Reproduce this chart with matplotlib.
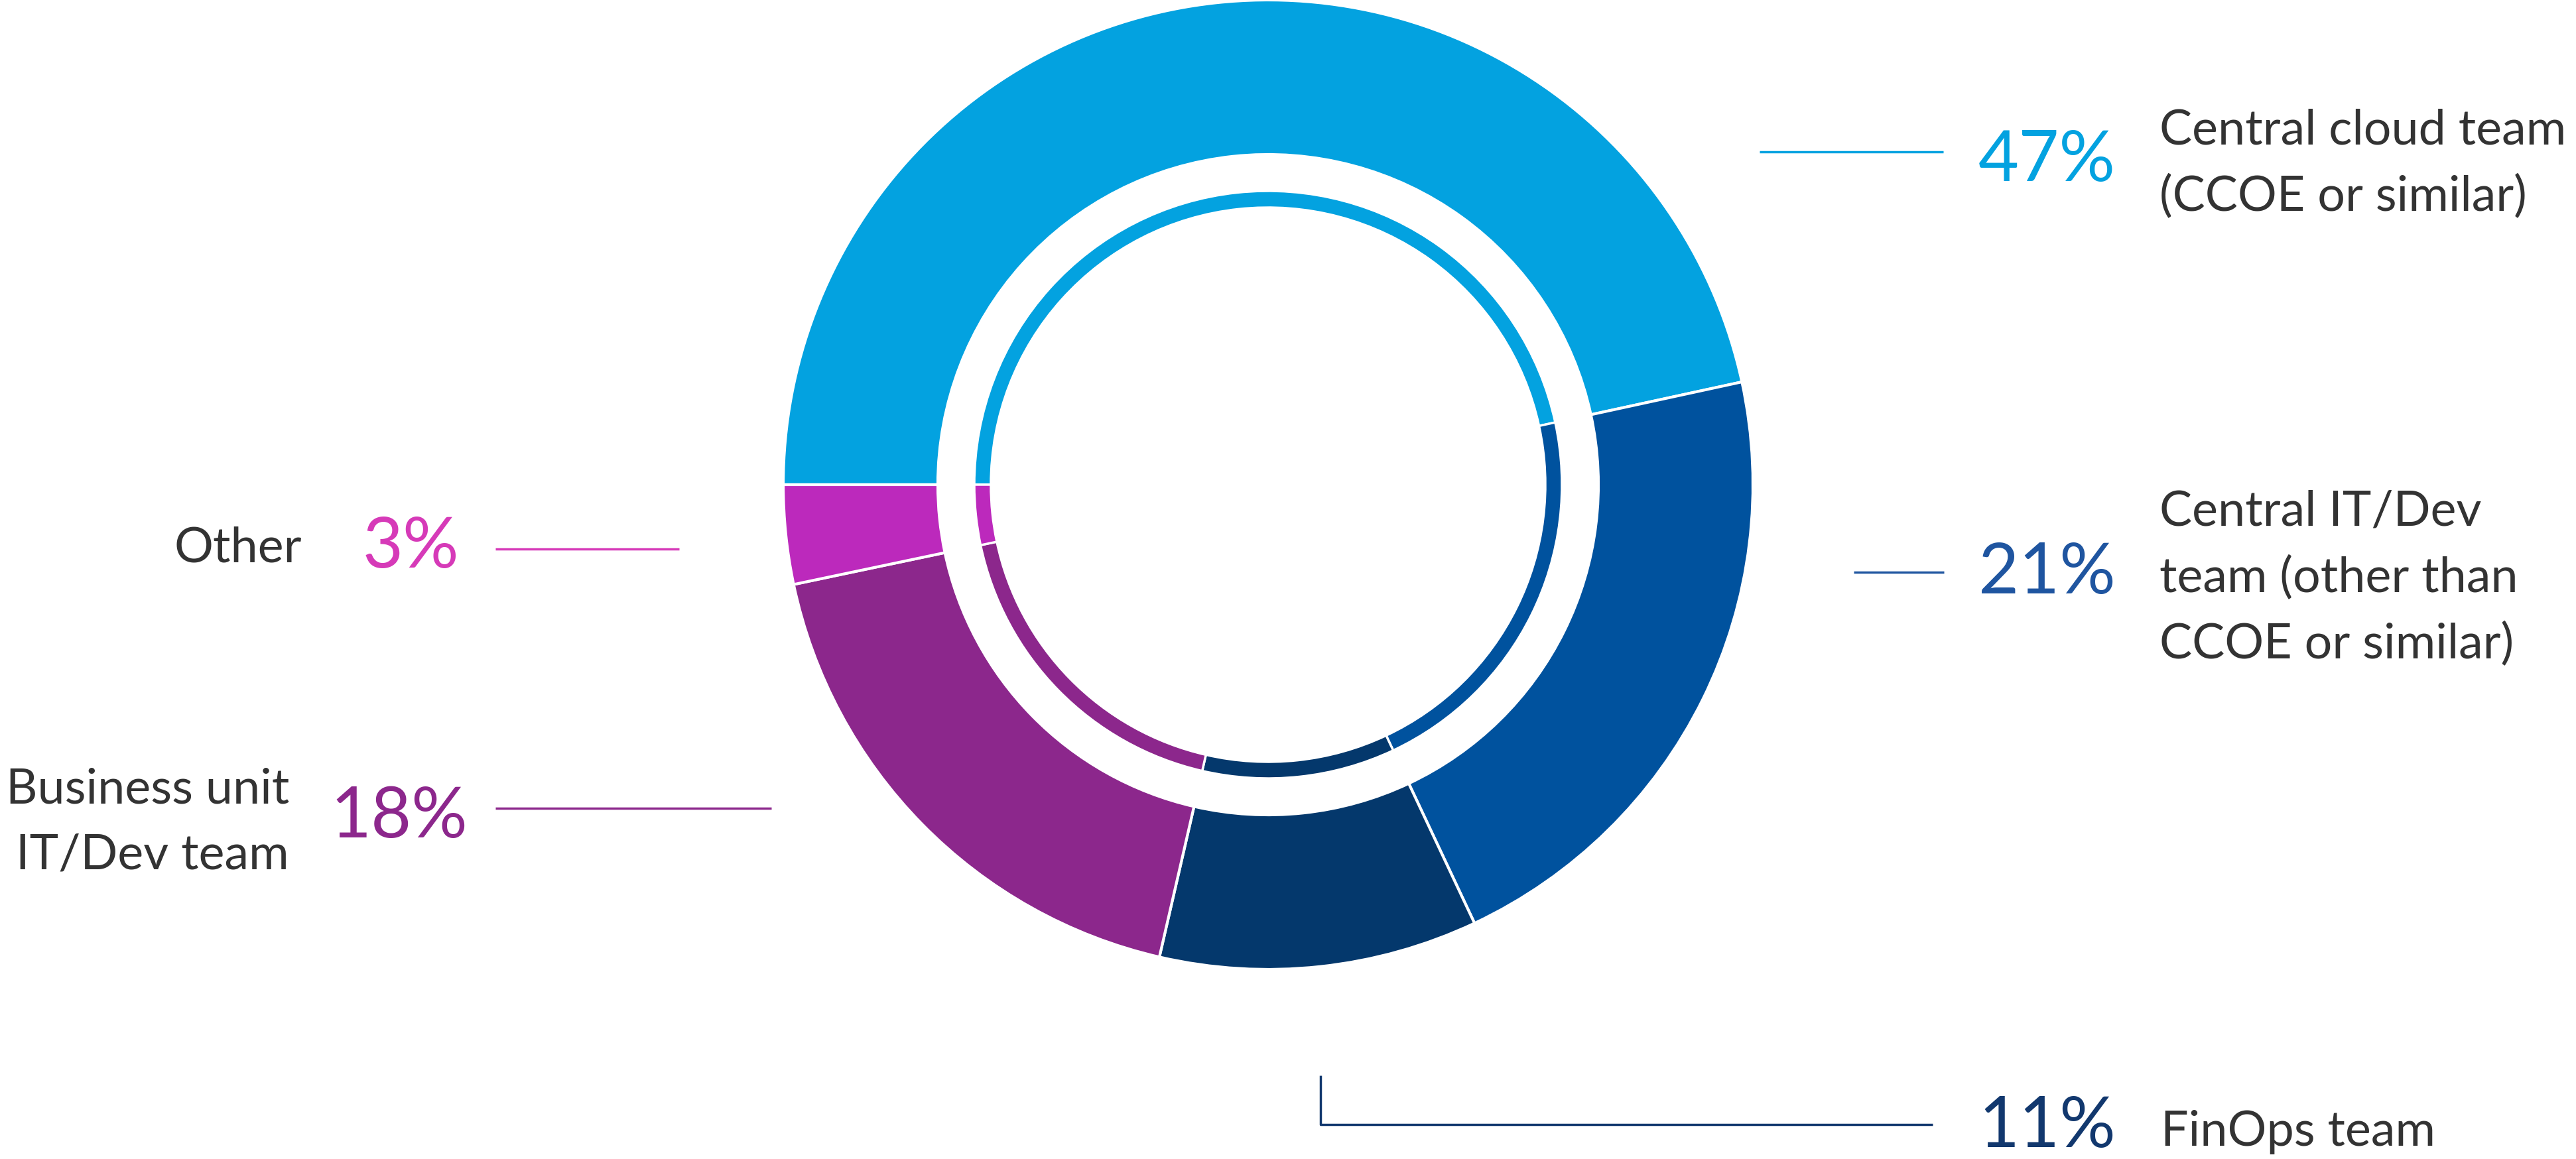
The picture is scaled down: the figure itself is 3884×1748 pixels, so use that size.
import matplotlib
matplotlib.use("Agg")
import matplotlib.pyplot as plt

# who owns cloud cost management -- donut with a thin inner ring
groups = ["Central cloud team\n(CCOE or similar)",
          "Central IT/Dev\nteam (other than\nCCOE or similar)",
          "FinOps team",
          "Business unit\nIT/Dev team",
          "Other"]
# wedge sizes (labels show the rounded numbers)
shares = [46.6, 21.4, 10.6, 18.1, 3.3]
pct_labels = ["47%", "21%", "11%", "18%", "3%"]
colors = ["#03a2e0", "#00529e", "#04386c", "#8c278c", "#bc29bc"]
text_colors = ["#03a2e0", "#1f55a0", "#12386e", "#8c278c", "#d63ab8"]

W, H = 3884, 1748
cx, cy = 1912, 731

fig = plt.figure(figsize=(W / 100, H / 100), dpi=100)
ax = fig.add_axes([0, 0, 1, 1])

# y axis is inverted below, so counterclock=True reads clockwise on screen
ax.pie(shares, colors=colors, startangle=180, counterclock=True,
       center=(cx, cy), radius=731,
       wedgeprops=dict(width=233, edgecolor="white", linewidth=3))
ax.pie(shares, colors=colors, startangle=180, counterclock=True,
       center=(cx, cy), radius=443,
       wedgeprops=dict(width=25, edgecolor="white", linewidth=2.5))

ax.set_xlim(0, W)
ax.set_ylim(H, 0)
ax.set_aspect("equal")
ax.axis("off")

fam = ["Lato", "DejaVu Sans"]
label_color = "#333333"

# (pct x, pct baseline, pct ha, label x, label baseline, label ha, leader pts)
layout = [
    (3190, 273, "right", 3256, 218, "left", [(2653, 229), (2930, 229)]),
    (3190, 895, "right", 3256, 793, "left", [(2795, 863), (2931, 863)]),
    (3190, 1730, "right", 3258, 1728, "left", [(1991, 1622), (1991, 1696), (2914, 1696)]),
    (705, 1263, "right", 436, 1211, "right", [(747, 1219), (1163, 1219)]),
    (692, 856, "right", 455, 847, "right", [(747, 828), (1024, 828)]),
]

for i, (px, pb, pha, lx, lb, lha, pts) in enumerate(layout):
    ax.text(px, pb, pct_labels[i], ha=pha, va="baseline", fontsize=76,
            color=text_colors[i], family=fam)
    for j, line in enumerate(groups[i].split("\n")):
        ax.text(lx, lb + j * 100, line, ha=lha, va="baseline", fontsize=53,
                color=label_color, family=fam)
    xs = [p[0] for p in pts]
    ys = [p[1] for p in pts]
    ax.plot(xs, ys, color=text_colors[i], lw=2.5, solid_capstyle="butt")

plt.savefig("out.png", dpi=100)
